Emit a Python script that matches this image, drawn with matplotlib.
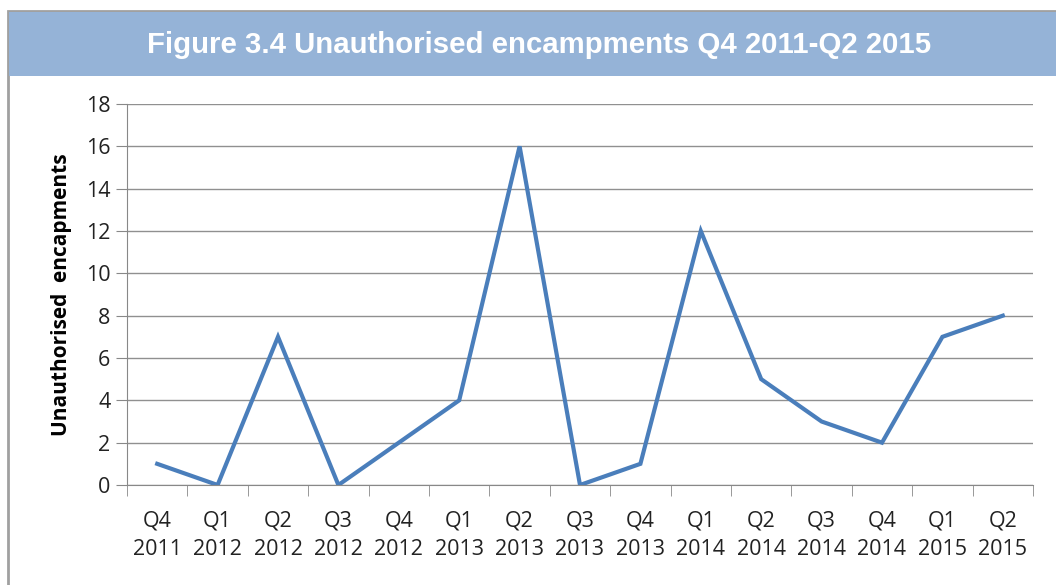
import matplotlib.pyplot as plt
from matplotlib.patches import Rectangle

# quarterly counts of unauthorised encampments
quarters = ['Q4\n2011', 'Q1\n2012', 'Q2\n2012', 'Q3\n2012', 'Q4\n2012',
            'Q1\n2013', 'Q2\n2013', 'Q3\n2013', 'Q4\n2013', 'Q1\n2014',
            'Q2\n2014', 'Q3\n2014', 'Q4\n2014', 'Q1\n2015', 'Q2\n2015']
counts = [1, 0, 7, 0, 2, 4, 16, 0, 1, 12, 5, 3, 2, 7, 8]
yticks = [0, 2, 4, 6, 8, 10, 12, 14, 16, 18]

W, H = 1056, 585
fig = plt.figure(figsize=(W / 100, H / 100), dpi=100)

# outer border and title banner
fig.patches.append(Rectangle((8 / W, -0.01), 1.1, 1 - 11 / H + 0.01, transform=fig.transFigure,
                             facecolor='none', edgecolor='#a0a0a0', linewidth=2))
fig.patches.append(Rectangle((9 / W, 1 - 76 / H), 1.0, 64 / H, transform=fig.transFigure,
                             facecolor='#95b3d7', edgecolor='none'))
fig.text(539 / W, 1 - 45 / H, 'Figure 3.4 Unauthorised encampments Q4 2011-Q2 2015',
         ha='center', va='center', color='white', fontsize=21.2, fontweight='bold',
         family='Liberation Sans')

ax = fig.add_axes([127 / W, 1 - 485 / H, (1033 - 127) / W, (485 - 104) / H])
x = list(range(len(counts)))
ax.plot(x, counts, color='#4a7ebb', linewidth=3, solid_joinstyle='miter')

tick_font = dict(fontsize=15.5, family='Open Sans', color='#222222')
ax.set_xlim(-0.5, len(counts) - 0.5)
ax.set_ylim(0, 18)
ax.set_yticks(yticks)
ax.set_yticklabels([str(v) for v in yticks], **tick_font)
ax.set_xticks(x)
ax.set_xticklabels(quarters, linespacing=1.5, **tick_font)
ax.tick_params(axis='x', which='major', length=0, pad=18)
ax.set_xticks([i - 0.5 for i in range(len(counts) + 1)], minor=True)
ax.tick_params(axis='x', which='minor', length=8, color='#888888', direction='out')
ax.tick_params(axis='y', length=8, color='#888888', direction='out', pad=4)

ax.grid(axis='y', color='#909090', linewidth=1)
ax.set_axisbelow(True)
for side in ['top', 'right']:
    ax.spines[side].set_visible(False)
for side in ['left', 'bottom']:
    ax.spines[side].set_color('#888888')

ax.set_ylabel('Unauthorised  encapments', fontsize=15, fontweight='bold', family='Open Sans',
              labelpad=10)

fig.savefig('out.png', dpi=100)
